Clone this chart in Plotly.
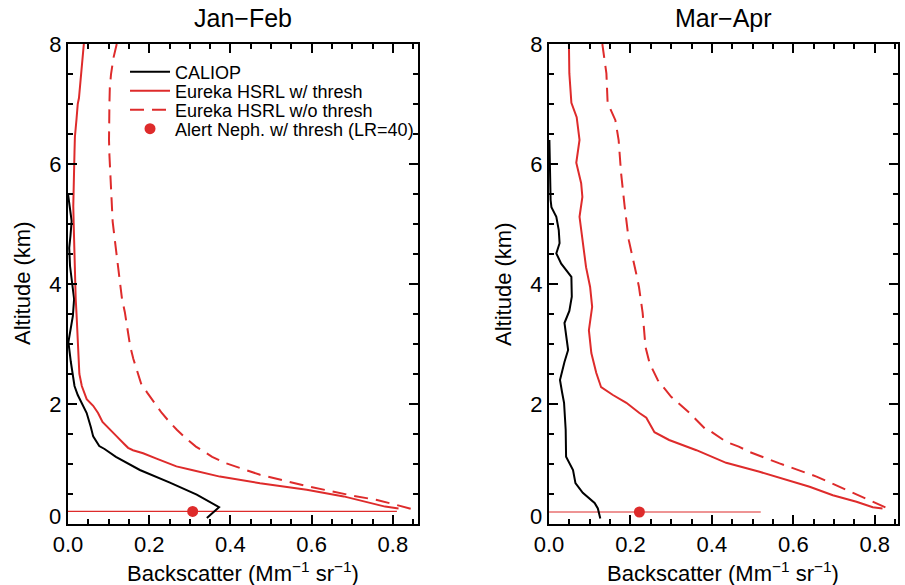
import plotly.graph_objects as go

# ---------------- data ----------------
# Jan-Feb panel
jf_caliop_alt = [5.5, 5.3, 5.05, 4.8, 4.6, 4.3, 4.05, 3.75, 3.47, 3.25, 3.03, 2.7, 2.45, 2.3, 2.15, 2.05,
                 1.85, 1.62, 1.46, 1.3, 1.25, 1.12, 0.9, 0.69, 0.49, 0.28, 0.1]
jf_caliop_val = [0.0, 0.004, 0.009, 0.006, 0.003, 0.005, 0.009, 0.015, 0.012, 0.006, 0.001, 0.007, 0.012, 0.016,
                 0.024, 0.032, 0.046, 0.056, 0.062, 0.077, 0.09, 0.118, 0.177, 0.251, 0.317, 0.372, 0.342]

jf_thr_alt = [8.0, 7.85, 7.75, 7.6, 7.5, 7.35, 7.25, 7.1, 7.0, 6.85, 6.75, 6.6, 6.45, 6.2, 5.9, 5.6, 5.3, 5.0,
              4.75, 4.5, 4.2, 4.0, 3.75, 3.5, 3.25, 3.0, 2.75, 2.5, 2.3, 2.2, 2.08, 1.97, 1.85, 1.7, 1.57, 1.46,
              1.35, 1.27, 1.23, 1.18, 1.09, 0.96, 0.9, 0.79, 0.68, 0.57, 0.46, 0.37, 0.29, 0.26]
jf_thr_val = [0.039, 0.037, 0.036, 0.034, 0.033, 0.031, 0.030, 0.027, 0.024, 0.023, 0.021, 0.019, 0.017, 0.016,
              0.015, 0.014, 0.013, 0.014, 0.015, 0.016, 0.017, 0.017, 0.019, 0.021, 0.023, 0.025, 0.026, 0.028,
              0.034, 0.039, 0.046, 0.062, 0.074, 0.085, 0.103, 0.12, 0.136, 0.148, 0.16, 0.185, 0.218, 0.267,
              0.305, 0.374, 0.473, 0.588, 0.679, 0.736, 0.781, 0.814]

jf_nothr_alt = [8.0, 7.77, 7.5, 7.27, 7.0, 6.72, 6.4, 6.15, 5.85, 5.59, 5.3, 5.04, 4.75, 4.47, 4.2, 3.97, 3.75,
                3.53, 3.25, 2.97, 2.75, 2.53, 2.34, 2.19, 1.98, 1.85, 1.7, 1.57, 1.43, 1.29, 1.12, 1.01, 0.82,
                0.62, 0.48, 0.4, 0.33, 0.24]
jf_nothr_val = [0.12, 0.112, 0.106, 0.103, 0.102, 0.101, 0.101, 0.102, 0.104, 0.106, 0.108, 0.11, 0.115, 0.12,
                0.124, 0.128, 0.133, 0.14, 0.147, 0.153, 0.161, 0.172, 0.18, 0.195, 0.218, 0.231, 0.25, 0.268,
                0.29, 0.315, 0.355, 0.39, 0.473, 0.596, 0.695, 0.761, 0.802, 0.851]

jf_neph_alt = [0.21]
jf_neph_val = [0.307]
jf_ref_line_x = [0.0, 0.81]

# Mar-Apr panel
ma_caliop_alt = [6.4, 6.0, 5.73, 5.4, 5.28, 5.12, 4.9, 4.68, 4.51, 4.34, 4.12, 3.79, 3.55, 3.35, 3.1, 2.9,
                 2.7, 2.4, 2.2, 2.02, 1.57, 1.12, 0.9, 0.68, 0.52, 0.35, 0.26, 0.09]
ma_caliop_val = [0.001, 0.002, 0.002, 0.004, 0.006, 0.018, 0.024, 0.026, 0.018, 0.03, 0.055, 0.056, 0.05, 0.038,
                 0.043, 0.047, 0.038, 0.027, 0.032, 0.037, 0.041, 0.042, 0.059, 0.065, 0.083, 0.112, 0.12, 0.126]

ma_thr_alt = [8.0, 7.51, 7.02, 6.78, 6.4, 6.02, 5.68, 5.45, 5.12, 4.73, 4.28, 3.95, 3.62, 3.23, 2.85, 2.52,
              2.28, 2.15, 2.02, 1.85, 1.77, 1.53, 1.4, 1.23, 1.02, 0.87, 0.73, 0.62, 0.48, 0.37, 0.28, 0.26]
ma_thr_val = [0.049, 0.050, 0.055, 0.068, 0.075, 0.067, 0.079, 0.082, 0.075, 0.082, 0.091, 0.101, 0.106, 0.098,
              0.104, 0.116, 0.128, 0.157, 0.19, 0.222, 0.239, 0.259, 0.295, 0.362, 0.435, 0.517, 0.583, 0.64,
              0.697, 0.755, 0.795, 0.819]

ma_nothr_alt = [8.0, 7.51, 7.02, 6.73, 6.4, 5.85, 5.28, 4.73, 4.18, 3.95, 3.52, 2.95, 2.68, 2.4, 2.12, 1.85,
                1.57, 1.54, 1.37, 1.29, 1.2, 1.01, 0.79, 0.62, 0.43, 0.26]
ma_nothr_val = [0.131, 0.141, 0.144, 0.163, 0.171, 0.177, 0.186, 0.196, 0.214, 0.221, 0.23, 0.237, 0.247,
                0.267, 0.3, 0.345, 0.386, 0.398, 0.435, 0.466, 0.493, 0.566, 0.657, 0.714, 0.775, 0.832]

ma_neph_alt = [0.2]
ma_neph_val = [0.222]
ma_ref_line_x = [0.0, 0.52]

titles = ["Jan\u2212Feb", "Mar\u2212Apr"]
legend_names = ["CALIOP", "Eureka HSRL w/ thresh", "Eureka HSRL w/o thresh", "Alert Neph. w/ thresh (LR=40)"]
x_title = "Backscatter (Mm<sup>\u22121</sup> sr<sup>\u22121</sup>)"
y_title = "Altitude (km)"
x_ticks = [0.0, 0.2, 0.4, 0.6, 0.8]
y_ticks = [0, 2, 4, 6, 8]
y_ticktext = ["", "2", "4", "6", "8"]   # the "0" is drawn slightly raised, as in the reference

# ---------------- styling ----------------
RED = "#de2b2b"
FONT = "Liberation Sans, Arial, Helvetica, sans-serif"
legend_ids = ["legend", "legend2", "legend3", "legend4"]

fig = go.Figure()

panels = [
    ("x", "y", jf_caliop_alt, jf_caliop_val, jf_thr_alt, jf_thr_val, jf_nothr_alt, jf_nothr_val,
     jf_neph_alt, jf_neph_val, jf_ref_line_x, True),
    ("x2", "y2", ma_caliop_alt, ma_caliop_val, ma_thr_alt, ma_thr_val, ma_nothr_alt, ma_nothr_val,
     ma_neph_alt, ma_neph_val, ma_ref_line_x, False),
]

for (xa, ya, ca, cv, ta, tv, na, nv, pa, pv, rl, show) in panels:
    fig.add_trace(go.Scatter(x=rl, y=[pa[0]] * len(rl), xaxis=xa, yaxis=ya, mode="lines",
                             line=dict(color=RED, width=1.2), showlegend=False, hoverinfo="skip"))
    fig.add_trace(go.Scatter(x=cv, y=ca, xaxis=xa, yaxis=ya, mode="lines", name=legend_names[0],
                             line=dict(color="black", width=2), showlegend=show, legend=legend_ids[0]))
    fig.add_trace(go.Scatter(x=tv, y=ta, xaxis=xa, yaxis=ya, mode="lines", name=legend_names[1],
                             line=dict(color=RED, width=2), showlegend=show, legend=legend_ids[1]))
    fig.add_trace(go.Scatter(x=nv, y=na, xaxis=xa, yaxis=ya, mode="lines", name=legend_names[2],
                             line=dict(color=RED, width=2, dash="14px,8px"), showlegend=show,
                             legend=legend_ids[2]))
    fig.add_trace(go.Scatter(x=pv, y=pa, xaxis=xa, yaxis=ya, mode="markers", name=legend_names[3],
                             marker=dict(color=RED, size=11), showlegend=show, legend=legend_ids[3]))

common_x = dict(
    range=[0, 0.862], tickvals=x_ticks, tickformat=".1f", ticks="inside", ticklen=9, tickwidth=1.5,
    tickcolor="black", showline=True, linecolor="black", linewidth=2, mirror="allticks",
    showgrid=False, zeroline=False, automargin=False,
    minor=dict(dtick=0.05, ticks="inside", ticklen=5, tickwidth=1.5, tickcolor="black", showgrid=False),
    tickfont=dict(family=FONT, size=22, color="black"),
)
common_y = dict(
    range=[0, 8], tickvals=y_ticks, ticktext=y_ticktext, ticks="inside", ticklen=9, tickwidth=1.5,
    tickcolor="black", showline=True, linecolor="black", linewidth=2, mirror="allticks", showgrid=False,
    zeroline=False, automargin=False,
    minor=dict(dtick=0.5, ticks="inside", ticklen=5, tickwidth=1.5, tickcolor="black", showgrid=False),
    tickfont=dict(family=FONT, size=22, color="black"),
)

# one single-entry legend per series, stacked at the reference rows
legend_rows = [0.9417, 0.9021, 0.8625, 0.8229]
legend_layout = {}
for lid, yy in zip(legend_ids, legend_rows):
    legend_layout[lid] = dict(x=0.0687, y=yy, xanchor="left", yanchor="middle", bgcolor="rgba(0,0,0,0)",
                              font=dict(family=FONT, size=18, color="black"), itemwidth=40)

panel_left = [0.0, 0.5795]
panel_center = [0.2108, 0.7897]
annotations = []
for i in range(2):
    annotations.append(dict(text=titles[i], x=panel_center[i], xref="paper", y=1.0, yref="paper", yshift=26,
                            showarrow=False, font=dict(family=FONT, size=25, color="black"),
                            xanchor="center", yanchor="middle"))
    annotations.append(dict(text=x_title, x=panel_center[i], xref="paper", y=0.0, yref="paper", yshift=-48,
                            showarrow=False, font=dict(family=FONT, size=22, color="black"),
                            xanchor="center", yanchor="middle"))
    annotations.append(dict(text=y_title, x=panel_left[i], xref="paper", y=0.5, yref="paper", xshift=-46,
                            textangle=-90, showarrow=False, font=dict(family=FONT, size=22, color="black"),
                            xanchor="center", yanchor="middle"))
    annotations.append(dict(text=str(y_ticks[0]), x=panel_left[i], xref="paper", y=0.0, yref="paper",
                            xshift=-5, yshift=8, showarrow=False,
                            font=dict(family=FONT, size=22, color="black"), xanchor="right",
                            yanchor="middle"))

fig.update_layout(
    width=905, height=585, autosize=False,
    margin=dict(l=68, r=7, t=44, b=61),
    paper_bgcolor="white", plot_bgcolor="white",
    font=dict(family=FONT, color="black"),
    xaxis=dict(common_x, domain=[0.0, 0.4217], anchor="y"),
    yaxis=dict(common_y, anchor="x"),
    xaxis2=dict(common_x, domain=[0.5795, 1.0], anchor="y2", range=[0, 0.857]),
    yaxis2=dict(common_y, anchor="x2"),
    showlegend=True,
    annotations=annotations,
    **legend_layout,
)

fig.write_html("out.html", config={"displayModeBar": False},
               post_script="document.body.style.margin='0';document.body.style.padding='0';")
